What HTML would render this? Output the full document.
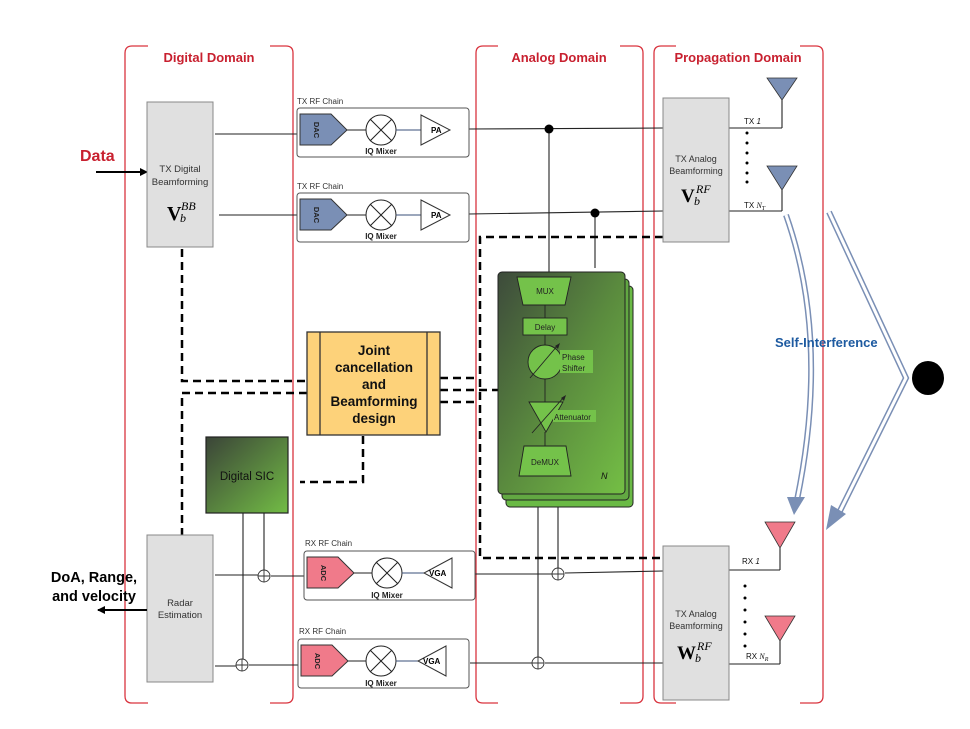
<!DOCTYPE html>
<html><head><meta charset="utf-8"><style>
html,body{margin:0;padding:0;background:#fff}
svg{display:block;font-family:"Liberation Sans",sans-serif}
</style></head><body>
<svg width="970" height="729" viewBox="0 0 970 729" xmlns="http://www.w3.org/2000/svg">
<defs>
<linearGradient id="gsic" x1="0" y1="0" x2="1" y2="1"><stop offset="0" stop-color="#3b4438"/><stop offset="1" stop-color="#72bc45"/></linearGradient>
<linearGradient id="gan" x1="0" y1="0" x2="1" y2="1"><stop offset="0" stop-color="#3d4a3b"/><stop offset="0.5" stop-color="#5a8a3e"/><stop offset="1" stop-color="#74bf45"/></linearGradient>
<marker id="ah" markerWidth="8" markerHeight="8" refX="7" refY="4" orient="auto" markerUnits="userSpaceOnUse"><path d="M0,0 L8,4 L0,8 z" fill="#000"/></marker>
</defs>

<!-- domain boxes -->
<g fill="none" stroke="#d9343f" stroke-width="1.3">
<path d="M148,46 H132 Q125,46 125,53 V696 Q125,703 132,703 H148"/>
<path d="M270,46 H286 Q293,46 293,53 V696 Q293,703 286,703 H270"/>
<path d="M498,46 H483 Q476,46 476,53 V696 Q476,703 483,703 H498"/>
<path d="M620,46 H636 Q643,46 643,53 V696 Q643,703 636,703 H620"/>
<path d="M676,46 H661 Q654,46 654,53 V696 Q654,703 661,703 H676"/>
<path d="M800,46 H816 Q823,46 823,53 V696 Q823,703 816,703 H800"/>
</g>
<g fill="#c8202f" font-weight="bold" font-size="13" text-anchor="middle">
<text x="209" y="62">Digital Domain</text>
<text x="559" y="62">Analog Domain</text>
<text x="738" y="62">Propagation Domain</text>
</g>

<!-- Data arrow -->
<text x="80" y="161" fill="#c8202f" font-weight="bold" font-size="16">Data</text>
<line x1="96" y1="172" x2="147" y2="172" stroke="#000" stroke-width="2" marker-end="url(#ah)"/>

<!-- TX digital BF -->
<rect x="147" y="102" width="66" height="145" fill="#e0e0e0" stroke="#888"/>
<g font-size="9.5" fill="#333" text-anchor="middle"><text x="180" y="172">TX Digital</text><text x="180" y="185">Beamforming</text></g>
<text x="167" y="220" font-family="Liberation Serif,serif" font-weight="bold" font-size="20">V</text>
<text x="181" y="210" font-family="Liberation Serif,serif" font-style="italic" font-size="12">BB</text>
<text x="180" y="222" font-family="Liberation Serif,serif" font-style="italic" font-size="12">b</text>

<!-- solid lines -->
<g stroke="#222" stroke-width="1.1" fill="none">
<line x1="215" y1="134" x2="297" y2="134"/>
<line x1="219" y1="215" x2="297" y2="215"/>
<line x1="469" y1="129" x2="663" y2="128"/>
<line x1="469" y1="214" x2="663" y2="211"/>
<line x1="549" y1="129" x2="549" y2="276"/>
<line x1="595" y1="213" x2="595" y2="268"/>
<line x1="538" y1="507" x2="538" y2="657"/>
<line x1="558" y1="507" x2="558" y2="568"/>
<line x1="475" y1="574" x2="552" y2="574"/>
<line x1="565" y1="573" x2="663" y2="571"/>
<line x1="470" y1="663" x2="532" y2="663"/>
<line x1="545" y1="663" x2="663" y2="663"/>
<line x1="215" y1="575" x2="258" y2="575"/>
<line x1="271" y1="576" x2="304" y2="576"/>
<line x1="215" y1="666" x2="236" y2="666"/>
<line x1="249" y1="665" x2="298" y2="665"/>
<line x1="243" y1="513" x2="243" y2="659"/>
<line x1="264" y1="513" x2="264" y2="570"/>
<line x1="729" y1="128" x2="782" y2="128"/><line x1="782" y1="128" x2="782" y2="100"/>
<line x1="729" y1="211" x2="782" y2="211"/><line x1="782" y1="211" x2="782" y2="190"/>
<line x1="729" y1="570" x2="780" y2="570"/><line x1="780" y1="570" x2="780" y2="548"/>
<line x1="729" y1="664" x2="780" y2="664"/><line x1="780" y1="664" x2="780" y2="641"/>
</g>
<circle cx="549" cy="129" r="4.5" fill="#000"/>
<circle cx="595" cy="213" r="4.5" fill="#000"/>
<!-- oplus -->
<g fill="#fff" stroke="#333" stroke-width="0.9">
<circle cx="558" cy="574" r="6"/><path d="M552,574 H564 M558,568 V580"/>
<circle cx="538" cy="663" r="6"/><path d="M532,663 H544 M538,657 V669"/>
<circle cx="264" cy="576" r="6"/><path d="M258,576 H270 M264,570 V582"/>
<circle cx="242" cy="665" r="6"/><path d="M236,665 H248 M242,659 V671"/>
</g>

<!-- TX RF chains -->
<g id="tx">
<text x="297" y="104" font-size="8" fill="#333">TX RF Chain</text>
<rect x="297" y="108" width="172" height="49" rx="3" fill="none" stroke="#555"/>
<path d="M300,114 H331 L347,130 L331,145 H300 Z" fill="#7a8fb5" stroke="#333"/>
<text x="314" y="130" font-size="7.5" font-weight="bold" fill="#222" text-anchor="middle" transform="rotate(90 314 130)">DAC</text>
<line x1="347" y1="130" x2="366" y2="130" stroke="#222"/>
<circle cx="381" cy="130" r="15" fill="#fff" stroke="#222"/>
<path d="M370,119 L392,141 M392,119 L370,141" stroke="#222"/>
<line x1="396" y1="130" x2="421" y2="130" stroke="#3a4f7a"/>
<path d="M421,115 L450,130 L421,145 Z" fill="#fff" stroke="#333"/>
<text x="431" y="133" font-size="8" font-weight="bold">PA</text>
<text x="381" y="154" font-size="8" font-weight="bold" text-anchor="middle" fill="#222">IQ Mixer</text>
</g>
<g transform="translate(0,85)">
<text x="297" y="104" font-size="8" fill="#333">TX RF Chain</text>
<rect x="297" y="108" width="172" height="49" rx="3" fill="none" stroke="#555"/>
<path d="M300,114 H331 L347,130 L331,145 H300 Z" fill="#7a8fb5" stroke="#333"/>
<text x="314" y="130" font-size="7.5" font-weight="bold" fill="#222" text-anchor="middle" transform="rotate(90 314 130)">DAC</text>
<line x1="347" y1="130" x2="366" y2="130" stroke="#222"/>
<circle cx="381" cy="130" r="15" fill="#fff" stroke="#222"/>
<path d="M370,119 L392,141 M392,119 L370,141" stroke="#222"/>
<line x1="396" y1="130" x2="421" y2="130" stroke="#3a4f7a"/>
<path d="M421,115 L450,130 L421,145 Z" fill="#fff" stroke="#333"/>
<text x="431" y="133" font-size="8" font-weight="bold">PA</text>
<text x="381" y="154" font-size="8" font-weight="bold" text-anchor="middle" fill="#222">IQ Mixer</text>
</g>

<!-- RX RF chains -->
<g>
<text x="305" y="546" font-size="8" fill="#333">RX RF Chain</text>
<rect x="304" y="551" width="171" height="49" rx="3" fill="none" stroke="#555"/>
<path d="M307,557 H338 L354,573 L338,588 H307 Z" fill="#f07a8a" stroke="#333"/>
<text x="321" y="573" font-size="7.5" font-weight="bold" fill="#222" text-anchor="middle" transform="rotate(90 321 573)">ADC</text>
<line x1="354" y1="573" x2="372" y2="573" stroke="#222"/>
<circle cx="387" cy="573" r="15" fill="#fff" stroke="#222"/>
<path d="M376,562 L398,584 M398,562 L376,584" stroke="#222"/>
<line x1="402" y1="573" x2="424" y2="573" stroke="#3a4f7a"/>
<path d="M452,558 L424,573 L452,588 Z" fill="#fff" stroke="#333"/>
<text x="429" y="576" font-size="8" font-weight="bold">VGA</text>
<text x="387" y="598" font-size="8" font-weight="bold" text-anchor="middle" fill="#222">IQ Mixer</text>
</g>
<g transform="translate(-6,88)">
<text x="305" y="546" font-size="8" fill="#333">RX RF Chain</text>
<rect x="304" y="551" width="171" height="49" rx="3" fill="none" stroke="#555"/>
<path d="M307,557 H338 L354,573 L338,588 H307 Z" fill="#f07a8a" stroke="#333"/>
<text x="321" y="573" font-size="7.5" font-weight="bold" fill="#222" text-anchor="middle" transform="rotate(90 321 573)">ADC</text>
<line x1="354" y1="573" x2="372" y2="573" stroke="#222"/>
<circle cx="387" cy="573" r="15" fill="#fff" stroke="#222"/>
<path d="M376,562 L398,584 M398,562 L376,584" stroke="#222"/>
<line x1="402" y1="573" x2="424" y2="573" stroke="#3a4f7a"/>
<path d="M452,558 L424,573 L452,588 Z" fill="#fff" stroke="#333"/>
<text x="429" y="576" font-size="8" font-weight="bold">VGA</text>
<text x="387" y="598" font-size="8" font-weight="bold" text-anchor="middle" fill="#222">IQ Mixer</text>
</g>

<!-- dashed lines -->
<g stroke="#000" stroke-width="2.5" fill="none" stroke-dasharray="8,5">
<path d="M182,249 V381 H307"/>
<path d="M307,393 H182 V535"/>
<path d="M440,378 H478"/>
<path d="M440,390 H498"/>
<path d="M440,402 H478"/>
<path d="M663,237 H480 V558 H663"/>
<path d="M363,436 V482 H300"/>
</g>

<!-- Joint box -->
<rect x="307" y="332" width="133" height="103" fill="#fdd27a" stroke="#333" stroke-width="1.3"/>
<line x1="320" y1="332" x2="320" y2="435" stroke="#333" stroke-width="1.3"/>
<line x1="427" y1="332" x2="427" y2="435" stroke="#333" stroke-width="1.3"/>
<g font-weight="bold" font-size="13.5" text-anchor="middle" fill="#111">
<text x="374" y="355">Joint</text><text x="374" y="372">cancellation</text><text x="374" y="389">and</text><text x="374" y="406">Beamforming</text><text x="374" y="423">design</text>
</g>

<!-- Digital SIC -->
<rect x="206" y="437" width="82" height="76" fill="url(#gsic)" stroke="#222" stroke-width="1.2"/>
<text x="247" y="480" font-size="11.5" text-anchor="middle" fill="#111">Digital SIC</text>

<!-- Radar -->
<rect x="147" y="535" width="66" height="147" fill="#e0e0e0" stroke="#888"/>
<g font-size="9.5" fill="#333" text-anchor="middle"><text x="180" y="606">Radar</text><text x="180" y="618">Estimation</text></g>
<g font-weight="bold" font-size="14.5" text-anchor="middle" fill="#000"><text x="94" y="582">DoA, Range,</text><text x="94" y="601">and velocity</text></g>
<line x1="147" y1="610" x2="98" y2="610" stroke="#000" stroke-width="2" marker-end="url(#ah)"/>

<!-- Analog green stack -->
<rect x="506" y="286" width="127" height="221" rx="4" fill="#6aba45" stroke="#222"/>
<rect x="502" y="279" width="127" height="221" rx="4" fill="#62a842" stroke="#222"/>
<rect x="498" y="272" width="127" height="222" rx="4" fill="url(#gan)" stroke="#222"/>
<g stroke="#222" stroke-width="0.9">
<line x1="545" y1="305" x2="545" y2="318"/><line x1="545" y1="335" x2="545" y2="346"/>
<line x1="545" y1="379" x2="545" y2="402"/><line x1="545" y1="432" x2="545" y2="446"/>
<path d="M517,277 H571 L565,305 H523 Z" fill="#74c24a"/>
<rect x="523" y="318" width="44" height="17" fill="#74c24a"/>
<circle cx="545" cy="362" r="17" fill="#74c24a"/>
<path d="M529,402 H563 L546,432 Z" fill="#74c24a"/>
<path d="M524,446 H566 L571,476 H519 Z" fill="#74c24a"/>
<line x1="530" y1="378" x2="558" y2="345"/>
<line x1="532" y1="433" x2="564" y2="397"/>
</g>
<path d="M560,343 L558,349 L555,346 Z" fill="#222"/>
<path d="M566,395 L564,401 L561,398 Z" fill="#222"/>
<rect x="560" y="350" width="33" height="23" fill="#74c24a"/>
<rect x="553" y="410" width="43" height="12" fill="#74c24a"/>
<g font-size="8" fill="#222">
<text x="545" y="294" text-anchor="middle">MUX</text>
<text x="545" y="330" text-anchor="middle">Delay</text>
<text x="562" y="360">Phase</text><text x="562" y="371">Shifter</text>
<text x="554" y="420">Attenuator</text>
<text x="545" y="465" text-anchor="middle">DeMUX</text>
</g>
<text x="601" y="479" font-size="9" font-style="italic" fill="#111">N</text>

<!-- Analog BF boxes -->
<rect x="663" y="98" width="66" height="144" fill="#e0e0e0" stroke="#888"/>
<g font-size="9" fill="#333" text-anchor="middle"><text x="696" y="162">TX Analog</text><text x="696" y="174">Beamforming</text></g>
<text x="681" y="202" font-family="Liberation Serif,serif" font-weight="bold" font-size="19">V</text>
<text x="696" y="193" font-family="Liberation Serif,serif" font-style="italic" font-size="12">RF</text>
<text x="694" y="205" font-family="Liberation Serif,serif" font-style="italic" font-size="12">b</text>
<rect x="663" y="546" width="66" height="154" fill="#e0e0e0" stroke="#888"/>
<g font-size="9" fill="#333" text-anchor="middle"><text x="696" y="617">TX Analog</text><text x="696" y="629">Beamforming</text></g>
<text x="677" y="659" font-family="Liberation Serif,serif" font-weight="bold" font-size="19">W</text>
<text x="697" y="650" font-family="Liberation Serif,serif" font-style="italic" font-size="12">RF</text>
<text x="695" y="662" font-family="Liberation Serif,serif" font-style="italic" font-size="12">b</text>

<!-- antennas -->
<path d="M767,78 H797 L782,100 Z" fill="#7a8fb5" stroke="#333" stroke-width="0.8"/>
<path d="M767,166 H797 L782,190 Z" fill="#7a8fb5" stroke="#333" stroke-width="0.8"/>
<path d="M765,522 H795 L780,548 Z" fill="#f07a8a" stroke="#333" stroke-width="0.8"/>
<path d="M765,616 H795 L780,641 Z" fill="#f07a8a" stroke="#333" stroke-width="0.8"/>
<g font-size="8" fill="#111">
<text x="744" y="124">TX <tspan font-style="italic">1</tspan></text>
<text x="744" y="208">TX <tspan font-style="italic" font-family="Liberation Serif,serif">N<tspan font-size="6" dy="2">T</tspan></tspan></text>
<text x="742" y="564">RX <tspan font-style="italic">1</tspan></text>
<text x="746" y="659">RX <tspan font-style="italic" font-family="Liberation Serif,serif">N<tspan font-size="6" dy="2">R</tspan></tspan></text>
</g>
<g fill="#000">
<circle cx="747" cy="133" r="1.5"/><circle cx="747" cy="143" r="1.5"/><circle cx="747" cy="153" r="1.5"/><circle cx="747" cy="163" r="1.5"/><circle cx="747" cy="173" r="1.5"/><circle cx="747" cy="182" r="1.5"/>
<circle cx="745" cy="586" r="1.5"/><circle cx="745" cy="598" r="1.5"/><circle cx="745" cy="610" r="1.5"/><circle cx="745" cy="622" r="1.5"/><circle cx="745" cy="634" r="1.5"/><circle cx="745" cy="646" r="1.5"/>
</g>

<!-- self interference -->
<g fill="none" stroke="#7a8fb5" stroke-width="6" stroke-linejoin="miter">
<path d="M786,215 Q830,340 797,500"/>
<path d="M829,212 L906,378 L838,515"/>
</g>
<g fill="none" stroke="#fff" stroke-width="3" stroke-linejoin="miter">
<path d="M786,215 Q830,340 797,500"/>
<path d="M829,212 L906,378 L838,515"/>
</g>
<path d="M787,497 L805,497 L794,515 Z" fill="#7a8fb5"/>
<path d="M831,505 L846,514 L826,530 Z" fill="#7a8fb5"/>
<ellipse cx="928" cy="378" rx="16" ry="17" fill="#000"/>
<text x="775" y="347" font-size="13" font-weight="bold" fill="#1d5aa0">Self-Interference</text>
</svg>
</body></html>
